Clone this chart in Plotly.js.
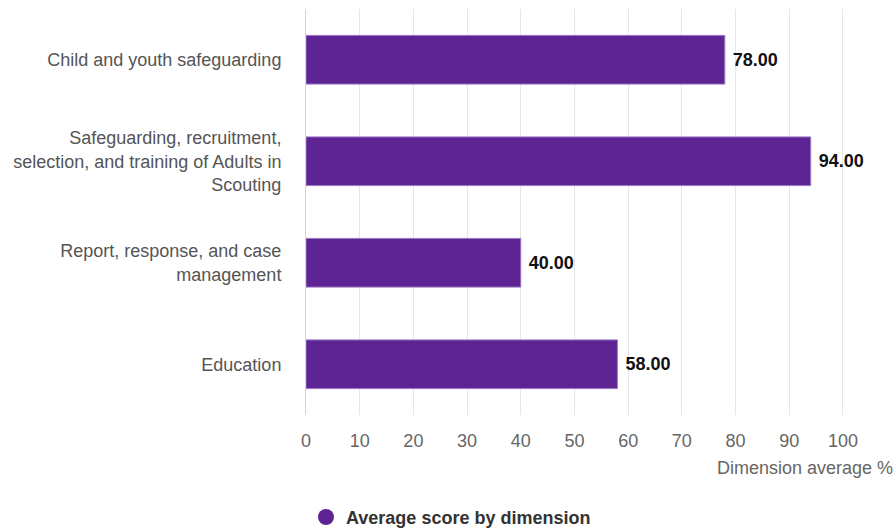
<!DOCTYPE html>
<html>
<head>
<meta charset="utf-8">
<script src="https://cdn.plot.ly/plotly-3.0.1.min.js"></script>
<style>html,body{margin:0;padding:0;background:#fff;}#chart{width:895px;height:529px;}</style>
</head>
<body>
<div id="chart"></div>
<script>
const categories = [
  "Child and youth safeguarding",
  "Safeguarding, recruitment,<br>selection, and training of Adults in<br>Scouting",
  "Report, response, and case<br>management",
  "Education"
];
const values = [78, 94, 40, 58];
const seriesName = "Average score by dimension";
const xTicks = [0, 10, 20, 30, 40, 50, 60, 70, 80, 90, 100];
const xAxisTitle = "Dimension average %";

const purple = "#5f2494";

const data = [
  {
    type: "bar",
    orientation: "h",
    x: values,
    y: categories,
    width: 0.48,
    marker: { color: purple, line: { color: "#9b7bc4", width: 1 } },
    text: values.map(v => "\u00a0<b>" + v.toFixed(2) + "</b>"),
    textposition: "outside",
    textfont: { family: "Liberation Sans, Arial, sans-serif", size: 18, color: "#111" },
    cliponaxis: false,
    showlegend: false,
    hoverinfo: "x+y"
  },
  {
    type: "scatter",
    mode: "markers",
    x: [null],
    y: [null],
    name: "<b>" + seriesName + "</b>",
    marker: { color: purple, size: 18, symbol: "circle" },
    showlegend: true
  }
];

const layout = {
  width: 895,
  height: 529,
  margin: { l: 306, r: 0, t: 9, b: 114, autoexpand: false },
  paper_bgcolor: "#fff",
  plot_bgcolor: "#fff",
  font: { family: "Liberation Sans, Arial, sans-serif", size: 18, color: "#555" },
  xaxis: {
    range: [0, 109.7],
    tickvals: xTicks,
    ticktext: xTicks.map(String),
    showgrid: true,
    gridcolor: "#e6e6e6",
    gridwidth: 1,
    zeroline: false,
    showline: false,
    ticks: "outside",
    ticklen: 9,
    tickcolor: "rgba(0,0,0,0)",
    tickfont: { size: 18, color: "#666" },
    automargin: false,
    fixedrange: true
  },
  yaxis: {
    autorange: "reversed",
    showline: true,
    linecolor: "#ccd6eb",
    linewidth: 1,
    showgrid: false,
    ticks: "outside",
    ticklen: 20,
    tickcolor: "rgba(0,0,0,0)",
    tickfont: { size: 18, color: "#555" },
    automargin: false,
    fixedrange: true
  },
  showlegend: true,
  legend: {
    orientation: "h",
    x: 0.0,
    xanchor: "left",
    y: -0.252,
    yanchor: "middle",
    font: { size: 18, color: "#333" },
    bgcolor: "rgba(0,0,0,0)"
  },
  annotations: [
    {
      text: xAxisTitle,
      xref: "paper",
      yref: "paper",
      x: 1,
      y: -0.13,
      xanchor: "right",
      yanchor: "middle",
      showarrow: false,
      font: { size: 18, color: "#666" }
    }
  ]
};

Plotly.newPlot("chart", data, layout, { displayModeBar: false, staticPlot: true });
</script>
</body>
</html>
